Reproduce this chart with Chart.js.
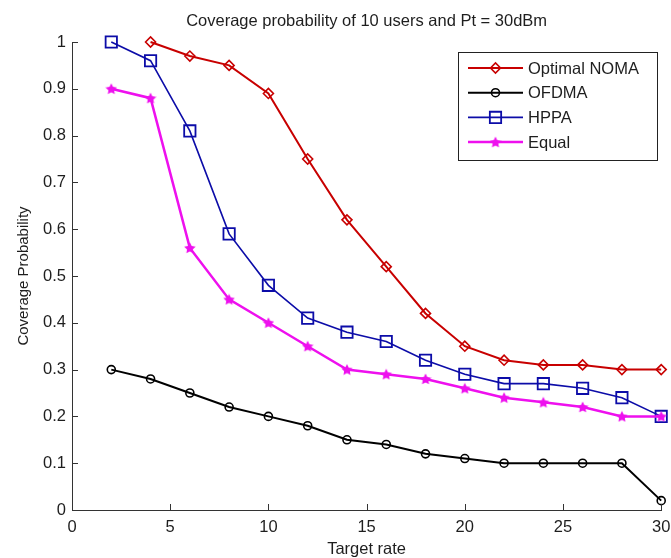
<!DOCTYPE html>
<html>
<head>
<meta charset="utf-8">
<script src="https://cdn.jsdelivr.net/npm/chart.js@4/dist/chart.umd.min.js"></script>
<style>
  html, body { margin: 0; padding: 0; background: #fff; }
  #wrap { width: 671px; height: 558px; }
</style>
</head>
<body>
<div id="wrap"><canvas id="grafico" width="671" height="558"></canvas></div>
<script>
// datos
const targetRate = [2, 4, 6, 8, 10, 12, 14, 16, 18, 20, 22, 24, 26, 28, 30];
const optimalNoma = [null, 1.00, 0.97, 0.95, 0.89, 0.75, 0.62, 0.52, 0.42, 0.35, 0.32, 0.31, 0.31, 0.30, 0.30];
const ofdma = [0.30, 0.28, 0.25, 0.22, 0.20, 0.18, 0.15, 0.14, 0.12, 0.11, 0.10, 0.10, 0.10, 0.10, 0.02];
const hppa = [1.00, 0.96, 0.81, 0.59, 0.48, 0.41, 0.38, 0.36, 0.32, 0.29, 0.27, 0.27, 0.26, 0.24, 0.20];
const equal = [0.90, 0.88, 0.56, 0.45, 0.40, 0.35, 0.30, 0.29, 0.28, 0.26, 0.24, 0.23, 0.22, 0.20, 0.20];
const seriesNames = ['Optimal NOMA', 'OFDMA', 'HPPA', 'Equal'];
const yTicks = [0, 0.1, 0.2, 0.3, 0.4, 0.5, 0.6, 0.7, 0.8, 0.9, 1];
const xTicks = [0, 5, 10, 15, 20, 25, 30];

const FONT = 'Liberation Sans, Arial, Helvetica, sans-serif';
const TEXT = '#1e1e1e';
const AXIS = '#333';

// estrella rellena para la serie Equal
function estrella(color) {
    const c = document.createElement('canvas');
    c.width = 12; c.height = 12;
    const g = c.getContext('2d');
    g.fillStyle = color;
    g.beginPath();
    for (let i = 0; i < 10; i++) {
        const r = i % 2 === 0 ? 6 : 3;
        const a = -Math.PI / 2 + i * Math.PI / 5;
        const px = 6 + r * Math.cos(a), py = 6.5 + r * Math.sin(a);
        if (i === 0) g.moveTo(px, py); else g.lineTo(px, py);
    }
    g.closePath();
    g.fill();
    return c;
}

function puntos(valores) {
    return targetRate.map((x, i) => ({ x: x, y: valores[i] }));
}

const datasets = [
    { label: seriesNames[0], data: puntos(optimalNoma), borderColor: '#c80000', borderWidth: 2,
      pointStyle: 'rectRot', pointRadius: 5, pointBorderWidth: 1.6, order: 3 },
    { label: seriesNames[1], data: puntos(ofdma), borderColor: '#000000', borderWidth: 2,
      pointStyle: 'circle', pointRadius: 4, pointBorderWidth: 1.6, order: 2 },
    { label: seriesNames[2], data: puntos(hppa), borderColor: '#0c0ca8', borderWidth: 1.6,
      pointStyle: 'rect', pointRadius: 8, pointBorderWidth: 1.8, order: 1 },
    { label: seriesNames[3], data: puntos(equal), borderColor: '#ee10ee', borderWidth: 2.5,
      pointStyle: estrella('#ee10ee'), pointRadius: 6, pointBorderWidth: 1, order: 0 }
];
datasets.forEach(d => {
    d.pointBackgroundColor = 'rgba(0,0,0,0)';
    d.pointBorderColor = d.borderColor;
    d.tension = 0;
    d.spanGaps = false;
    d.clip = false;
});

// ticks hacia dentro, como en matlab
const ticksDentro = {
    id: 'ticksDentro',
    afterDatasetsDraw(chart) {
        const { ctx, chartArea, scales } = chart;
        ctx.save();
        ctx.strokeStyle = AXIS;
        ctx.lineWidth = 1;
        ctx.beginPath();
        xTicks.forEach(v => {
            const x = Math.round(scales.x.getPixelForValue(v)) + 0.5;
            ctx.moveTo(x, chartArea.bottom);
            ctx.lineTo(x, chartArea.bottom - 6);
        });
        yTicks.forEach(v => {
            const y = Math.round(scales.y.getPixelForValue(v)) + 0.5;
            ctx.moveTo(chartArea.left, y);
            ctx.lineTo(chartArea.left + 6, y);
        });
        ctx.stroke();
        ctx.restore();
    }
};

// leyenda dentro del grafico
const leyenda = {
    id: 'leyenda',
    afterDraw(chart) {
        const { ctx } = chart;
        const bx = 458.5, by = 52.5, bw = 199, bh = 108;
        ctx.save();
        ctx.fillStyle = '#fff';
        ctx.fillRect(bx, by, bw, bh);
        ctx.strokeStyle = '#222';
        ctx.lineWidth = 1;
        ctx.strokeRect(bx, by, bw, bh);
        chart.data.datasets.forEach((d, i) => {
            const y = 68 + i * 24.7;
            ctx.strokeStyle = d.borderColor;
            ctx.lineWidth = d.borderWidth;
            ctx.beginPath();
            ctx.moveTo(468, y);
            ctx.lineTo(523, y);
            ctx.stroke();
            ctx.fillStyle = 'rgba(0,0,0,0)';
            ctx.lineWidth = d.pointBorderWidth;
            Chart.helpers.drawPoint(ctx, {
                pointStyle: d.pointStyle, radius: d.pointRadius, rotation: 0, borderWidth: d.pointBorderWidth
            }, 495.5, y);
            ctx.fillStyle = TEXT;
            ctx.font = '16.5px ' + FONT;
            ctx.textBaseline = 'middle';
            ctx.textAlign = 'left';
            ctx.fillText(d.label, 528, y + 1);
        });
        ctx.restore();
    }
};

new Chart(document.getElementById('grafico'), {
    type: 'line',
    data: { datasets: datasets },
    options: {
        responsive: false,
        animation: false,
        layout: { padding: { left: 0, right: 3, top: 0, bottom: 0 } },
        plugins: {
            legend: { display: false },
            tooltip: { enabled: false },
            title: {
                display: true,
                fullSize: false,
                text: 'Coverage probability of 10 users and Pt = 30dBm',
                color: TEXT,
                font: { family: FONT, size: 16.5, weight: 'normal', lineHeight: 1.2 },
                padding: { top: 12, bottom: 10.2 }
            }
        },
        scales: {
            x: {
                type: 'linear',
                min: 0, max: 30,
                grid: { display: true, drawOnChartArea: false, drawTicks: false },
                border: { display: true, color: AXIS, width: 1 },
                ticks: {
                    stepSize: 5, autoSkip: false, maxRotation: 0, padding: 8,
                    color: TEXT, font: { family: FONT, size: 16.5 }
                },
                title: {
                    display: true, text: 'Target rate', color: TEXT,
                    font: { family: FONT, size: 16.5, lineHeight: 1 },
                    padding: { top: 0, bottom: 0 }
                },
                afterFit(s) { s.height = 48; s.paddingLeft = 0; s.paddingRight = 0; }
            },
            y: {
                type: 'linear',
                min: 0, max: 1,
                grid: { display: true, drawOnChartArea: false, drawTicks: false },
                border: { display: true, color: AXIS, width: 1 },
                ticks: {
                    stepSize: 0.1, autoSkip: false, padding: 6,
                    color: TEXT, font: { family: FONT, size: 16.5 },
                    callback: v => String(+v.toFixed(1))
                },
                title: {
                    display: true, text: 'Coverage Probability', color: TEXT,
                    font: { family: FONT, size: 15, lineHeight: 1.2 },
                    padding: { top: 15, bottom: 0 }
                },
                afterFit(s) { s.width = 72; s.paddingTop = 0; s.paddingBottom = 0; }
            }
        }
    },
    plugins: [ticksDentro, leyenda]
});
</script>
</body>
</html>
